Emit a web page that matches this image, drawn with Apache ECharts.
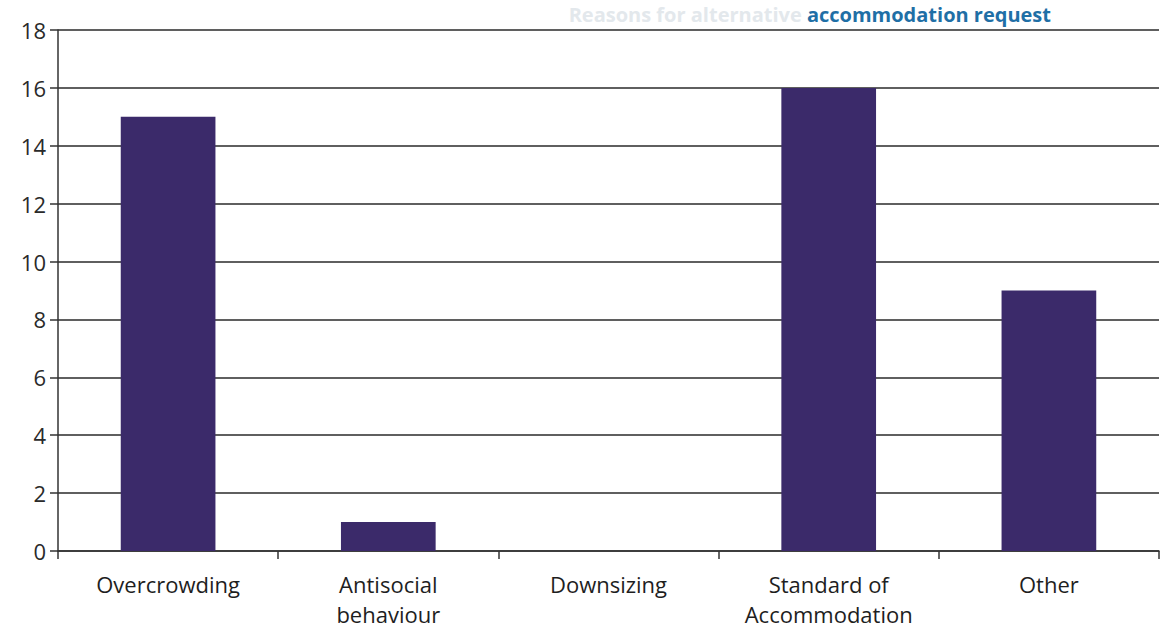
<!DOCTYPE html>
<html>
<head>
<meta charset="utf-8">
<script src="https://cdn.jsdelivr.net/npm/echarts@6/dist/echarts.min.js"></script>
<style>
html,body{margin:0;padding:0;background:#fff;}
#chart{width:1163px;height:641px;}
</style>
</head>
<body>
<div id="chart"></div>
<script>
var categories = ['Overcrowding', 'Antisocial\nbehaviour', 'Downsizing', 'Standard of\nAccommodation', 'Other'];
var values = [15, 1, 0, 16, 9];
var yTicks = { min: 0, max: 18, interval: 2 };
var titleFaded = 'Reasons for alternative ';
var titleMain = 'accommodation request';

var chart = echarts.init(document.getElementById('chart'), null, { renderer: 'svg' });
chart.setOption({
  backgroundColor: '#ffffff',
  animation: false,
  graphic: [{
    type: 'text',
    right: 112,
    top: 4,
    style: {
      text: '{a|' + titleFaded + '}{b|' + titleMain + '}',
      rich: {
        a: { fontFamily: 'Open Sans', fontWeight: 'bold', fontSize: 20, lineHeight: 22, fill: '#e3e8ec', color: '#e3e8ec' },
        b: { fontFamily: 'Open Sans', fontWeight: 'bold', fontSize: 20, lineHeight: 22, fill: '#1f6fa6', color: '#1f6fa6' }
      }
    }
  }],
  grid: { left: 58, right: 4, top: 30, bottom: 90, containLabel: false },
  xAxis: {
    type: 'category',
    data: categories,
    boundaryGap: true,
    axisLine: { show: true, lineStyle: { color: '#333', width: 1.5 } },
    axisTick: { show: true, alignWithLabel: false, length: 8, lineStyle: { color: '#333', width: 1.5 } },
    axisLabel: {
      color: '#1e1e1e', fontFamily: 'Open Sans', fontSize: 22, margin: 18, lineHeight: 30, interval: 0
    }
  },
  yAxis: {
    type: 'value',
    min: yTicks.min, max: yTicks.max, interval: yTicks.interval,
    axisLine: { show: true, lineStyle: { color: '#333', width: 1.5 } },
    axisTick: { show: true, length: 8, lineStyle: { color: '#333', width: 1.5 } },
    axisLabel: { color: '#2a2a2a', fontFamily: 'Open Sans', fontSize: 22, margin: 12 },
    splitLine: { show: true, lineStyle: { color: '#2a2a2a', width: 1.5 } }
  },
  series: [{
    type: 'bar',
    data: values,
    barWidth: '43%',
    itemStyle: { color: '#3b2a6a' }
  }]
});
</script>
</body>
</html>
